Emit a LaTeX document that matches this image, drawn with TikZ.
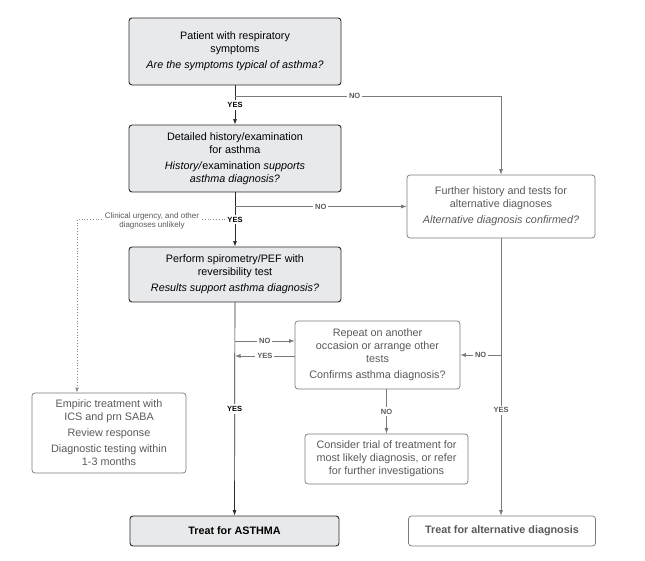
\documentclass[tikz,border=0pt]{standalone}
\usepackage{fontspec}
\setmainfont{Liberation Sans}
\usepackage{tikz}
\usetikzlibrary{arrows.meta, positioning}
\definecolor{fgray}{HTML}{E8E9EB}
\definecolor{fdark}{HTML}{2B2B2B}
\definecolor{fline}{HTML}{7A7A7A}
\definecolor{ftext}{HTML}{5A5A5A}
\definecolor{fdots}{HTML}{8C8C8C}

\tikzset{
  keybox/.style={draw=fdark, fill=fgray, rounded corners=3pt, line width=0.9pt,
    align=center, font=\fontsize{10.8}{13}\selectfont, inner sep=2pt},
  altbox/.style={draw=fline, fill=white, text=ftext, rounded corners=3pt, line width=0.7pt,
    align=center, font=\fontsize{10.8}{13}\selectfont, inner sep=2pt},
  keyarrow/.style={draw=fdark, line width=0.7pt, -{Latex[length=5.5pt,width=4pt]}},
  altarrow/.style={draw=fline, line width=0.7pt, -{Latex[length=5.5pt,width=4pt]}},
  dotline/.style={draw=fdots, line width=1pt, dash pattern=on 0.8pt off 2pt,
    -{Latex[length=5.5pt,width=4pt]}},
  yn/.style={font=\fontsize{7.5}{8}\selectfont\bfseries, fill=white, inner sep=2pt},
}

\begin{document}
\begin{tikzpicture}[x=1pt, y=-1pt]

  \useasboundingbox (0,0) rectangle (645,561);

  %% Main column
  \node[keybox, minimum width=212pt, minimum height=67pt] (patient) at (235,51.5)
    {Patient with respiratory\\symptoms\\[3pt]\textit{Are the symptoms typical of asthma?}};
  \node[keybox, minimum width=212pt, minimum height=67pt] (history) at (235,158.5)
    {Detailed history/examination\\for asthma\\[3pt]\textit{History/}examination \textit{supports}\\\textit{asthma diagnosis?}};
  \node[keybox, minimum width=212pt, minimum height=55pt] (spiro) at (235,274.5)
    {Perform spirometry/PEF with\\reversibility test\\[3pt]\textit{Results support asthma diagnosis?}};
  \node[keybox, minimum width=209pt, minimum height=30pt, font=\fontsize{10.8}{13}\selectfont\bfseries] (treat) at (234.5,531)
    {Treat for ASTHMA};

  %% Side boxes
  \node[altbox, minimum width=188pt, minimum height=63pt] (further) at (501,206.5)
    {Further history and tests for\\alternative diagnoses\\[3pt]\textit{Alternative diagnosis confirmed?}};
  \node[altbox, minimum width=165pt, minimum height=68pt] (repeat) at (377.5,355)
    {Repeat on another\\occasion or arrange other\\tests\\[3pt]Confirms asthma diagnosis?};
  \node[altbox, minimum width=154pt, minimum height=80pt] (empiric) at (109,433)
    {Empiric treatment with\\ICS and prn SABA\\[3pt]Review response\\[3pt]Diagnostic testing within\\1-3 months};
  \node[altbox, minimum width=163pt, minimum height=50pt] (consider) at (386.5,459)
    {Consider trial of treatment for\\most likely diagnosis, or refer\\for further investigations};
  \node[altbox, minimum width=187pt, minimum height=30pt, font=\fontsize{10.8}{13}\selectfont\bfseries] (treatalt) at (502,531)
    {Treat for alternative diagnosis};

  %% Free ends
  \coordinate (patno) at (235,96);
  \coordinate (histno) at (235,206.5);
  \coordinate (repno) at (235,341);
  \coordinate (repyes) at (235,356);
  \coordinate (emptop) at (77,393);

  %% Main arrows
  \draw[keyarrow] (patient) -- node[yn] {YES} (history);
  \draw[keyarrow] (history) -- node[yn, pos=0.5] (yesb) {YES} (spiro);
  \draw[keyarrow] (spiro) -- node[yn] {YES} (treat);

  %% NO branches
  \draw[altarrow] (patno) -| node[yn, text=ftext, pos=0.225] {NO} (further.north);
  \draw[altarrow] (histno) -- node[yn, text=ftext] {NO} (further.west);
  \draw[altarrow] (further.south) -- node[yn, text=ftext, pos=0.62] {YES} (further.south |- treatalt.north);
  \draw[altarrow] (further.south |- repeat.east) -- node[yn, text=ftext] {NO} (repeat.east);
  \draw[altarrow] (repno) -- node[yn, text=ftext] {NO} (repno -| repeat.west);
  \draw[altarrow] (repyes -| repeat.west) -- node[yn, text=ftext] {YES} (repyes);
  \draw[altarrow] (consider.north |- repeat.south) -- node[yn, text=ftext] {NO} (consider.north);

  %% Clinical urgency
  \draw[dotline] (yesb.west) -| (emptop);
  \node[fill=white, text=ftext, align=center, inner sep=1.5pt, font=\fontsize{8}{9.5}\selectfont] (urgency) at (152,221)
    {Clinical urgency, and other\\diagnoses unlikely};

\end{tikzpicture}
\end{document}
